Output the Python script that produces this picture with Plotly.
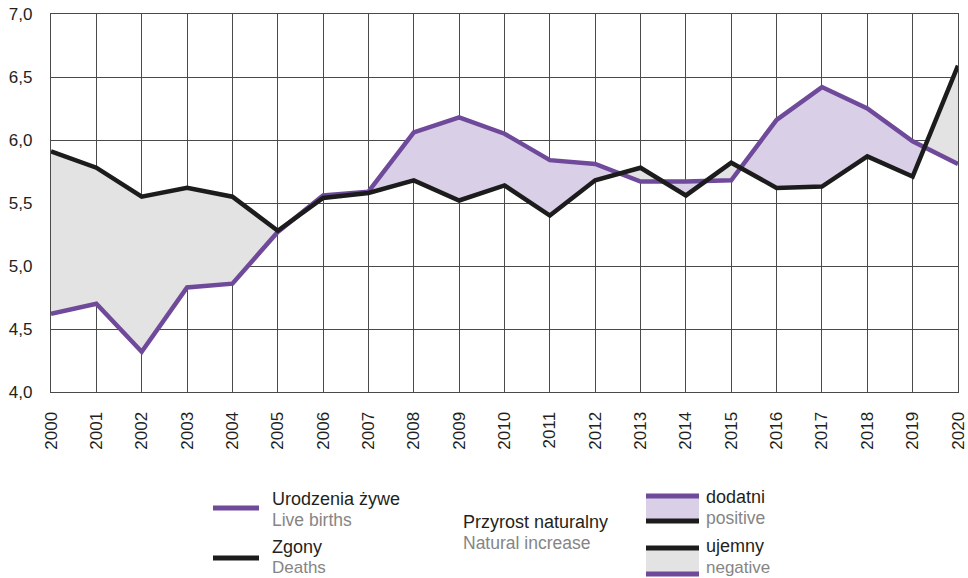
import plotly.graph_objects as go

# ---- data (per 1000 population) ----
years = list(range(2000, 2021))
births = [4.62, 4.70, 4.32, 4.83, 4.86, 5.27, 5.56, 5.59, 6.06, 6.18, 6.05,
          5.84, 5.81, 5.67, 5.67, 5.68, 6.16, 6.42, 6.25, 5.99, 5.81]
deaths = [5.91, 5.78, 5.55, 5.62, 5.55, 5.28, 5.54, 5.58, 5.68, 5.52, 5.64,
          5.40, 5.68, 5.78, 5.56, 5.82, 5.62, 5.63, 5.87, 5.71, 6.59]
y_ticks = [4.0, 4.5, 5.0, 5.5, 6.0, 6.5, 7.0]

label_births = ("Urodzenia żywe", "Live births")
label_deaths = ("Zgony", "Deaths")
label_ni = ("Przyrost naturalny", "Natural increase")
label_pos = ("dodatni", "positive")
label_neg = ("ujemny", "negative")

PURPLE = "#6f4a9b"
BLACK = "#1c1c1c"
POS_FILL = "#d9cfe6"
NEG_FILL = "#e3e3e3"
GRID = "#4a4a4a"
TXT = "#231f20"
SUB = "#858585"
FONT = "Liberation Sans, Arial, sans-serif"


def region_polygons(x, a, b):
    """Split area between a and b into polygons of constant sign, with crossings."""
    polys = []
    cur_x, cur_a, cur_b = [x[0]], [a[0]], [b[0]]
    sign = 1 if a[0] - b[0] >= 0 else -1
    for i in range(1, len(x)):
        d0 = a[i - 1] - b[i - 1]
        d1 = a[i] - b[i]
        s1 = 1 if d1 > 0 else (-1 if d1 < 0 else sign)
        if s1 != sign and d0 != 0:
            t = d0 / (d0 - d1)
            xc = x[i - 1] + t * (x[i] - x[i - 1])
            yc = a[i - 1] + t * (a[i] - a[i - 1])
            cur_x.append(xc); cur_a.append(yc); cur_b.append(yc)
            polys.append((sign, cur_x, cur_a, cur_b))
            cur_x, cur_a, cur_b = [xc], [yc], [yc]
            sign = s1
        cur_x.append(x[i]); cur_a.append(a[i]); cur_b.append(b[i])
    polys.append((sign, cur_x, cur_a, cur_b))
    return polys


fig = go.Figure()

for sign, px_, pa, pb in region_polygons(years, births, deaths):
    fig.add_trace(go.Scatter(
        x=px_ + px_[::-1], y=pa + pb[::-1], mode="lines", fill="toself",
        fillcolor=POS_FILL if sign > 0 else NEG_FILL,
        line=dict(width=0), hoverinfo="skip", showlegend=False))

fig.add_trace(go.Scatter(x=years, y=births, mode="lines", name=label_births[1],
                         line=dict(color=PURPLE, width=4.5), showlegend=False))
fig.add_trace(go.Scatter(x=years, y=deaths, mode="lines", name=label_deaths[1],
                         line=dict(color=BLACK, width=4.5), showlegend=False))

# ---- layout ----
L, R, T, B = 51, 10, 14, 186
W, H = 968, 578
PW, PH = W - L - R, H - T - B


def px(xp):
    return (xp - L) / PW


def py(yp):
    return (H - B - yp) / PH


shapes = []
annotations = []


def hline(x0, x1, y, color, w=5):
    shapes.append(dict(type="line", xref="paper", yref="paper",
                       x0=px(x0), x1=px(x1), y0=py(y), y1=py(y),
                       line=dict(color=color, width=w)))


def rect(x0, x1, y0, y1, color):
    shapes.append(dict(type="rect", xref="paper", yref="paper",
                       x0=px(x0), x1=px(x1), y0=py(y0), y1=py(y1),
                       fillcolor=color, line=dict(width=0), layer="above"))


def text(x, y, s, color, size=18):
    annotations.append(dict(xref="paper", yref="paper", x=px(x), y=py(y),
                            text=s, showarrow=False, xanchor="left",
                            yanchor="middle", borderpad=0,
                            font=dict(family=FONT, size=size, color=color)))


hline(213, 259, 508, PURPLE)
hline(213, 259, 558, BLACK)
text(271, 499, label_births[0], TXT)
text(271, 520, label_births[1], SUB, 17.5)
text(271, 547, label_deaths[0], TXT)
text(271, 567, label_deaths[1], SUB, 17)
text(462, 522, label_ni[0], TXT)
text(462, 543, label_ni[1], SUB, 17.5)

rect(646, 699, 496, 521, POS_FILL)
hline(646, 699, 496, PURPLE)
hline(646, 699, 521, BLACK)
text(705, 497, label_pos[0], TXT)
text(705, 518, label_pos[1], SUB, 17.5)

rect(646, 699, 548, 574, NEG_FILL)
hline(646, 699, 548, BLACK)
hline(646, 699, 574, PURPLE)
text(705, 546, label_neg[0], TXT)
text(705, 567, label_neg[1], SUB, 17)

fig.update_layout(
    width=W, height=H,
    margin=dict(l=L, r=R, t=T, b=B, pad=0, autoexpand=False),
    paper_bgcolor="white", plot_bgcolor="white",
    separators=", ",
    font=dict(family=FONT, size=17, color=TXT),
    showlegend=False,
    shapes=shapes, annotations=annotations,
    xaxis=dict(range=[2000, 2020], tickmode="array", tickvals=years,
               ticktext=[str(y) for y in years], tickangle=-90,
               showgrid=True, gridcolor=GRID, gridwidth=1.2,
               showline=True, linecolor=GRID, linewidth=1.2, mirror=True,
               ticks="", ticklabelstandoff=12, zeroline=False, automargin=False,
               tickfont=dict(size=17, color=TXT)),
    yaxis=dict(range=[4, 7], tickmode="array", tickvals=y_ticks,
               tickformat=".1f",
               showgrid=True, gridcolor=GRID, gridwidth=1.2,
               showline=True, linecolor=GRID, linewidth=1.2, mirror=True,
               ticks="", ticklabelstandoff=14, zeroline=False, automargin=False,
               tickfont=dict(size=17, color=TXT)),
)

fig.write_html(
    "out.html",
    config={"displayModeBar": False},
    post_script="document.body.style.margin='0';document.body.style.overflow='hidden';",
)
